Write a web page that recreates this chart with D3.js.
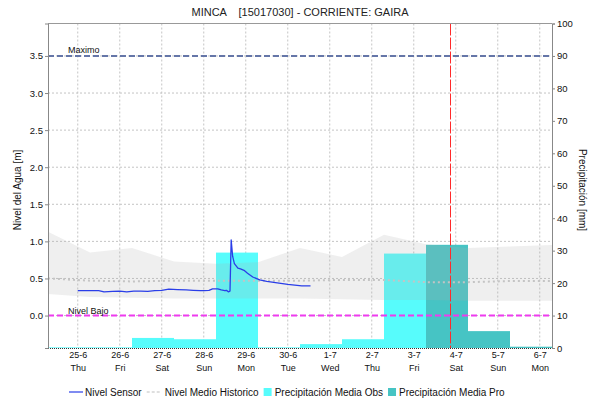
<!DOCTYPE html>
<html><head><meta charset="utf-8">
<script src="https://cdn.jsdelivr.net/npm/d3@7"></script>
<style>
body{margin:0;background:#fff;}
text{font-family:"Liberation Sans",Arial,sans-serif;}
</style>
</head><body>
<svg id="chart" width="590" height="404"></svg>
<script>
// ---------- DATA ----------
const chartTitle = "MINCA    [15017030] - CORRIENTE: GAIRA";
const leftAxisTitle = "Nivel del Agua [m]";
const rightAxisTitle = "Precipitación [mm]";

const dayTicks = ["2020-06-25T00:00","2020-06-26T00:00","2020-06-27T00:00","2020-06-28T00:00","2020-06-29T00:00","2020-06-30T00:00","2020-07-01T00:00","2020-07-02T00:00","2020-07-03T00:00","2020-07-04T00:00","2020-07-05T00:00","2020-07-06T00:00"];
const dayLabels = ["25-6","26-6","27-6","28-6","29-6","30-6","1-7","2-7","3-7","4-7","5-7","6-7"];
const weekdayLabels = ["Thu","Fri","Sat","Sun","Mon","Tue","Wed","Thu","Fri","Sat","Sun","Mon"];
const levelTicks = [0,0.5,1,1.5,2,2.5,3,3.5];
const precipTicks = [0,10,20,30,40,50,60,70,80,90,100];

const sensorTimes = ["2020-06-25T00:00","2020-06-25T06:00","2020-06-25T12:00","2020-06-25T15:00","2020-06-25T20:00","2020-06-26T00:00","2020-06-26T04:00","2020-06-26T08:00","2020-06-26T12:00","2020-06-26T16:00","2020-06-26T20:00","2020-06-27T00:00","2020-06-27T04:00","2020-06-27T09:00","2020-06-27T14:00","2020-06-27T18:00","2020-06-27T22:00","2020-06-28T00:00","2020-06-28T03:00","2020-06-28T05:00","2020-06-28T08:00","2020-06-28T10:00","2020-06-28T12:00","2020-06-28T13:00","2020-06-28T14:00","2020-06-28T15:00","2020-06-28T15:40","2020-06-28T16:30","2020-06-28T17:30","2020-06-28T19:30","2020-06-28T21:00","2020-06-28T23:00","2020-06-29T01:00","2020-06-29T04:00","2020-06-29T08:00","2020-06-29T12:00","2020-06-29T18:00","2020-06-30T00:00","2020-06-30T04:00","2020-06-30T08:00","2020-06-30T13:00"];
const sensorLevels = [0.335,0.335,0.335,0.32,0.325,0.33,0.32,0.33,0.33,0.325,0.335,0.34,0.355,0.35,0.345,0.34,0.335,0.335,0.34,0.36,0.36,0.345,0.335,0.34,0.32,0.33,1.02,0.80,0.70,0.64,0.63,0.61,0.57,0.52,0.48,0.46,0.44,0.42,0.41,0.40,0.40];

const histTimes = ["2020-06-24T07:00","2020-06-25T07:00","2020-06-26T07:00","2020-06-27T07:00","2020-06-28T07:00","2020-06-29T07:00","2020-06-30T07:00","2020-07-01T07:00","2020-07-02T07:00","2020-07-03T07:00","2020-07-04T07:00","2020-07-05T07:00","2020-07-06T07:00"];
const histUpper = [1.13,0.85,0.91,0.73,0.70,0.72,0.91,0.79,1.09,0.96,0.91,0.93,0.95];
const histLower = [0.29,0.25,0.24,0.23,0.23,0.23,0.23,0.22,0.21,0.21,0.20,0.20,0.20];
const histMean  = [0.50,0.47,0.46,0.47,0.47,0.47,0.47,0.48,0.48,0.45,0.45,0.465,0.465];

const obsStarts = ["2020-06-24T07:00","2020-06-25T07:00","2020-06-26T07:00","2020-06-27T07:00","2020-06-28T07:00","2020-06-29T07:00","2020-06-30T07:00","2020-07-01T07:00","2020-07-02T07:00"];
const obsValues = [0.2,0.2,3.1,2.7,29.4,0.2,1.2,2.7,29.1];
const proStarts = ["2020-07-03T07:00","2020-07-04T07:00","2020-07-05T07:00"];
const proValues = [31.8,5.2,0.4];

const maxLevel = 3.5, maxLabel = "Maximo";
const lowLevel = 0.0, lowLabel = "Nivel Bajo";
const nowTime = "2020-07-03T21:00";
const domainStart = "2020-06-24T07:00", domainEnd = "2020-07-06T07:00";
const legendLabels = ["Nivel Sensor","Nivel Medio Historico","Precipitación Media Obs","Precipitación Media Pro"];

// ---------- CHART ----------
const parse = d3.timeParse("%Y-%m-%dT%H:%M");
const svg = d3.select("#chart");
const L = 48, R = 552, T = 23.5, B = 348;

const x = d3.scaleTime().domain([parse(domainStart), parse(domainEnd)]).range([L, R]);
const yL = d3.scaleLinear().domain([-0.4375, 3.9375]).range([B, T]);
const yR = d3.scaleLinear().domain([0, 100]).range([B, T]);

const colObs = "#57fcfc", colPro = "#46c4c4", colSensor = "#2a3ee8";

svg.append("defs").append("clipPath").attr("id","clip")
  .append("rect").attr("x",L).attr("y",T).attr("width",R-L).attr("height",B-T);

// gridlines
const grid = svg.append("g");
grid.selectAll("line.h").data(levelTicks).join("line")
  .attr("x1",L).attr("x2",R).attr("y1",d=>yL(d)).attr("y2",d=>yL(d))
  .attr("stroke","#c4c4c4").attr("stroke-width",1).attr("stroke-dasharray","2,2");
grid.selectAll("line.v").data(dayTicks).join("line")
  .attr("x1",d=>x(parse(d))).attr("x2",d=>x(parse(d))).attr("y1",T).attr("y2",B)
  .attr("stroke","#c4c4c4").attr("stroke-width",1).attr("stroke-dasharray","2,2");

const plot = svg.append("g").attr("clip-path","url(#clip)");

// precipitation bars
const obsData = obsStarts.map((s,i)=>({s:parse(s), v:obsValues[i]}));
const proData = proStarts.map((s,i)=>({s:parse(s), v:proValues[i]}));
plot.selectAll("rect.obs").data(obsData).join("rect")
  .attr("x",d=>x(d.s)).attr("width",d=>x(d3.timeDay.offset(d.s,1))-x(d.s))
  .attr("y",d=>yR(d.v)).attr("height",d=>B-yR(d.v)).attr("fill",colObs);
plot.selectAll("rect.pro").data(proData).join("rect")
  .attr("x",d=>x(d.s)).attr("width",d=>x(d3.timeDay.offset(d.s,1))-x(d.s))
  .attr("y",d=>yR(d.v)).attr("height",d=>B-yR(d.v)).attr("fill",colPro);

// historic band
const hist = histTimes.map((t,i)=>({t:parse(t), u:histUpper[i], l:histLower[i], m:histMean[i]}));
plot.append("path").datum(hist)
  .attr("d", d3.area().x(d=>x(d.t)).y0(d=>yL(d.l)).y1(d=>yL(d.u)))
  .attr("fill","rgba(175,175,175,0.2)");
plot.append("path").datum(hist)
  .attr("d", d3.line().x(d=>x(d.t)).y(d=>yL(d.m)))
  .attr("fill","none").attr("stroke","#c4c4c4").attr("stroke-width",2).attr("stroke-dasharray","2,3");

// reference lines
plot.append("line").attr("x1",L).attr("x2",R).attr("y1",yL(maxLevel)).attr("y2",yL(maxLevel))
  .attr("stroke","#6576a8").attr("stroke-width",2).attr("stroke-dasharray","6,3");
plot.append("line").attr("x1",L).attr("x2",R).attr("y1",yL(lowLevel)).attr("y2",yL(lowLevel))
  .attr("stroke","#ee3bee").attr("stroke-width",2).attr("stroke-dasharray","6,3");
svg.append("text").attr("x",68).attr("y",yL(maxLevel)-3).attr("font-size",9).attr("fill","#111").text(maxLabel);
svg.append("text").attr("x",68).attr("y",yL(lowLevel)-2).attr("font-size",9).attr("fill","#111").text(lowLabel);

// sensor line
const sensor = sensorTimes.map((t,i)=>({t:parse(t), v:sensorLevels[i]}));
plot.append("path").datum(sensor)
  .attr("d", d3.line().x(d=>x(d.t)).y(d=>yL(d.v)))
  .attr("fill","none").attr("stroke",colSensor).attr("stroke-width",1.3).attr("stroke-linejoin","round");

// now line
plot.append("line").attr("x1",x(parse(nowTime))).attr("x2",x(parse(nowTime))).attr("y1",T).attr("y2",B)
  .attr("stroke","#ff2a2a").attr("stroke-width",1).attr("stroke-dasharray","12,2");

// frame
svg.append("line").attr("x1",L).attr("x2",R).attr("y1",T).attr("y2",T).attr("stroke","#999");
svg.append("line").attr("x1",L).attr("x2",R).attr("y1",B+0.5).attr("y2",B+0.5).attr("stroke","#333").attr("stroke-dasharray","1,1");

// axes
const gl = svg.append("g").attr("transform",`translate(${L},0)`)
  .call(d3.axisLeft(yL).tickValues(levelTicks).tickFormat(d3.format(".1f")).tickSize(3).tickPadding(2));
const gr = svg.append("g").attr("transform",`translate(${R},0)`)
  .call(d3.axisRight(yR).tickValues(precipTicks).tickSize(3).tickPadding(2));
[gl,gr].forEach(g=>{
  g.select(".domain").attr("stroke","#888");
  g.selectAll(".tick line").attr("stroke","#888");
  g.selectAll(".tick text").attr("font-size",9.5).attr("fill","#111").style("font-family","'Liberation Sans',Arial,sans-serif");
});
const gb = svg.append("g").attr("transform",`translate(0,${B})`)
  .call(d3.axisBottom(x).tickValues(dayTicks.map(parse)).tickSize(0).tickPadding(4).tickFormat((d,i)=>dayLabels[i]));
gb.select(".domain").remove();
gb.selectAll(".tick text").each(function(d,i){
  const t = d3.select(this);
  t.text(null).attr("font-size",9).attr("fill","#111").style("font-family","'Liberation Sans',Arial,sans-serif");
  t.append("tspan").attr("x",0).attr("dy","0.71em").text(dayLabels[i]);
  t.append("tspan").attr("x",0).attr("dy","1.35em").text(weekdayLabels[i]);
});

// titles
svg.append("text").attr("x",300).attr("y",16).attr("text-anchor","middle").attr("font-size",11).attr("fill","#222")
  .style("white-space","pre").attr("xml:space","preserve").text(chartTitle);
svg.append("text").attr("transform","translate(21,190) rotate(-90)").attr("text-anchor","middle").attr("font-size",10).attr("fill","#111").text(leftAxisTitle);
svg.append("text").attr("transform","translate(579,190) rotate(90)").attr("text-anchor","middle").attr("font-size",10).attr("fill","#111").text(rightAxisTitle);

// legend
const lg = svg.append("g");
let lx = 69; const ly = 392;
legendLabels.forEach((lab,i)=>{
  if(i===0){
    lg.append("line").attr("x1",lx).attr("x2",lx+14).attr("y1",ly).attr("y2",ly).attr("stroke",colSensor).attr("stroke-width",1.2);
    lx += 16;
  } else if(i===1){
    lg.append("line").attr("x1",lx).attr("x2",lx+15).attr("y1",ly).attr("y2",ly).attr("stroke","#c0c0c0").attr("stroke-width",1.2).attr("stroke-dasharray","3,2");
    lx += 18;
  } else {
    lg.append("rect").attr("x",lx).attr("y",ly-4).attr("width",8).attr("height",8).attr("fill",i===2?colObs:colPro);
    lx += 11;
  }
  const t = lg.append("text").attr("x",lx).attr("y",ly+3.5).attr("font-size",10).attr("fill","#111").text(lab);
  lx += t.node().getComputedTextLength() + 5;
});
</script>
</body></html>
